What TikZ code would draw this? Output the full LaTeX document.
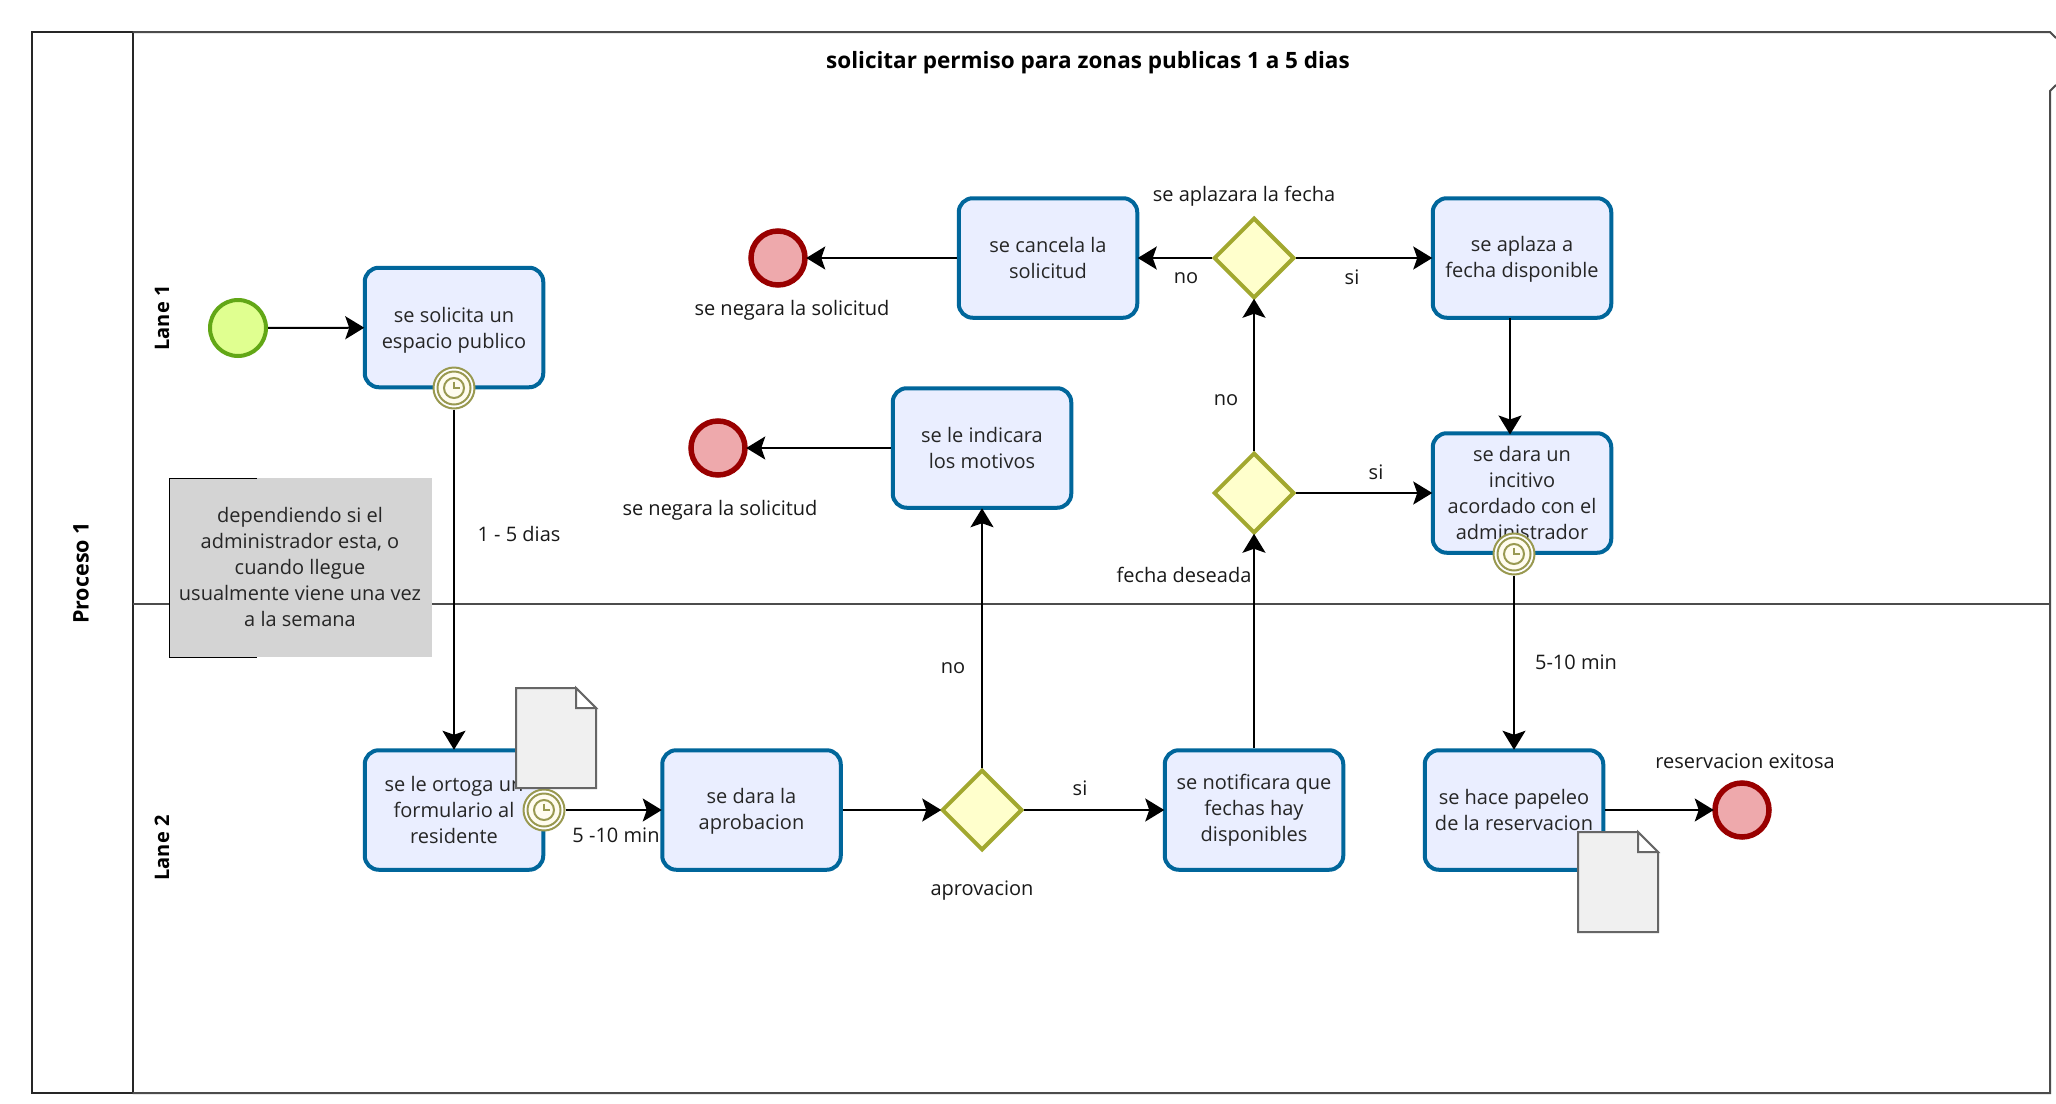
\documentclass[tikz,border=0pt]{standalone}
\usepackage{fontspec}
\setmainfont{Open Sans}
\usetikzlibrary{shapes.geometric,arrows.meta}
\definecolor{taskfill}{HTML}{EAEEFF}
\definecolor{taskline}{HTML}{00669B}
\definecolor{startfill}{HTML}{E0FF90}
\definecolor{startline}{HTML}{62A716}
\definecolor{endfill}{HTML}{EEA9AC}
\definecolor{endline}{HTML}{990000}
\definecolor{gatefill}{HTML}{FFFFCC}
\definecolor{gateline}{HTML}{A2A82F}
\definecolor{timerline}{HTML}{999950}
\definecolor{timerfill}{HTML}{FFFCEE}
\newcommand{\dropline}[1]{\rule{0pt}{#1pt}}
\tikzset{
  x=1pt,y=-1pt,
  body/.style={font=\fontsize{20}{26}\selectfont},
  label/.style={body,inner sep=0pt,text=black!90,align=center},
  taskbox/.style={body,draw=taskline,fill=taskfill,line width=4pt,rounded corners=14pt,
    minimum width=178.5pt,minimum height=119.5pt,inner sep=0pt,align=center,text=black!85},
  startev/.style={circle,draw=startline,fill=startfill,line width=4pt,minimum size=56pt,inner sep=0pt},
  endev/.style={circle,draw=endline,fill=endfill,line width=5.5pt,minimum size=54pt,inner sep=0pt},
  gate/.style={diamond,aspect=1,draw=gateline,fill=gatefill,line width=4pt,minimum size=80.5pt,inner sep=0pt},
  timer/.style={circle,draw=timerline,fill=white,line width=2pt,minimum size=41pt,inner sep=0pt,
    path picture={
      \coordinate (tc) at (path picture bounding box.center);
      \draw[timerline,line width=2pt,fill=timerfill] (tc) circle[radius=16.5pt];
      \draw[timerline,line width=2pt] (tc) circle[radius=10pt];
      \draw[timerline,line width=1.8pt] ([yshift=6.5pt]tc) -- (tc) -- ([xshift=6pt]tc);
    }},
  flow/.style={draw=black,line width=2pt,shorten >=-1.5pt,-{Stealth[length=19pt,width=23pt,inset=4pt]}},
  docshape/.style={draw=black!60,fill=black!6,line width=2pt},
  lanebox/.style={draw=black!70,line width=2pt},
  poolbox/.style={draw=black!85,line width=2pt},
}
\begin{document}
\begin{tikzpicture}
\useasboundingbox (0,0) rectangle (2056,1103);
\fill[white] (0,0) rectangle (2056,1103);
% pool and lanes
\draw[poolbox] (32,32) rectangle (132.5,1093);
\draw[lanebox] (132.5,32) -- (2050,32) -- (2056,38);
\draw[lanebox] (2056,85) -- (2050,91) -- (2050,1093) -- (132.5,1093);
\draw[lanebox] (132.5,604) -- (2050,604);
\node[inner sep=0pt,font=\fontsize{21.5}{26}\selectfont\bfseries,rotate=90] (pool) at (81,573) {Proceso 1};
\node[inner sep=0pt,font=\fontsize{20}{26}\selectfont\bfseries,rotate=90] (lane1) at (162,318) {Lane 1};
\node[inner sep=0pt,font=\fontsize{20}{26}\selectfont\bfseries,rotate=90] (lane2) at (162,848) {Lane 2};
\node[inner sep=0pt,font=\fontsize{22.5}{26}\selectfont\bfseries] (title) at (1088,63) {solicitar permiso para zonas publicas 1 a 5 dias};
% note
\fill[black!17] (169,478) rectangle (432,657);
\draw[black,line width=1pt] (257,478) -- (169,478) -- (169,657) -- (257,657);
\node[label,text=black!85] (note) at (300,567) {dependiendo si el\\administrador esta, o\\cuando llegue\\usualmente viene una vez\\a la semana};
% events
\node[startev] (start) at (238,328) {};
\node[endev] (end1) at (778,258) {};
\node[endev] (end2) at (718,448) {};
\node[endev] (end3) at (1742,810) {};
% tasks
\node[taskbox] (solicita) at (454,327.5) {\dropline{20.2}se solicita un\\espacio publico};
\node[taskbox] (ortoga) at (454,810) {se le ortoga un\\formulario al\\residente};
\node[taskbox] (dara) at (751.5,810) {\dropline{17.8}se dara la\\aprobacion};
\node[taskbox] (notifica) at (1254,810) {se notificara que\\fechas hay\\disponibles};
\node[taskbox] (papeleo) at (1514,810) {se hace papeleo\\de la reservacion};
\node[taskbox] (indicara) at (982,448) {se le indicara\\los motivos};
\node[taskbox] (cancela) at (1048,258) {se cancela la\\solicitud};
\node[taskbox] (aplaza) at (1522,258) {\dropline{17.8}se aplaza a\\fecha disponible};
\node[taskbox] (incitivo) at (1522,493) {se dara un\\incitivo\\acordado con el\\administrador};
% gateways
\node[gate] (g1) at (982,810) {};
\node[gate] (g2) at (1254,493) {};
\node[gate] (g3) at (1254,258) {};
% timers
\node[timer] (t1) at (454,388) {};
\node[timer] (t2) at (544,810) {};
\node[timer] (t3) at (1514,554) {};
% documents
\draw[docshape] (516,688) -- (576,688) -- (596,708) -- (596,788) -- (516,788) -- cycle;
\draw[docshape,fill=white] (576,688) -- (576,708) -- (596,708) -- cycle;
\draw[docshape] (1578,832) -- (1638,832) -- (1658,852) -- (1658,932) -- (1578,932) -- cycle;
\draw[docshape,fill=white] (1638,832) -- (1638,852) -- (1658,852) -- cycle;
% connectors
\draw[flow] (start) -- (solicita);
\draw[flow] (t1) -- (ortoga);
\draw[flow] (t2) -- (dara.west |- t2);
\draw[flow] (dara) -- (g1);
\draw[flow] (g1) -- (notifica);
\draw[flow] (g1) -- (indicara);
\draw[flow] (indicara) -- (end2);
\draw[flow] (notifica) -- (g2);
\draw[flow] (g2) -- (incitivo);
\draw[flow] (g2) -- (g3);
\draw[flow] (g3) -- (aplaza);
\draw[flow] (g3) -- (cancela);
\draw[flow] (cancela) -- (end1);
\coordinate (aplazaout) at (1510,318);
\coordinate (incitivoin) at (1510,433);
\draw[flow] (aplazaout) -- (incitivoin);
\draw[flow] (t3) -- (t3 |- papeleo.north);
\draw[flow] (papeleo) -- (end3);
% labels
\node[label] (l1) at (519,534) {1 - 5 dias};
\node[label] (l2) at (616,835) {5 -10 min};
\node[label] (l3) at (982,891) {aprovacion};
\node[label] (l4) at (1080,788) {si};
\node[label] (l5) at (953,668) {no};
\node[label] (l6) at (1184,575) {fecha deseada};
\node[label] (l7) at (1226,400) {no};
\node[label] (l8) at (1376,472) {si};
\node[label] (l9) at (1244,196) {se aplazara la fecha};
\node[label] (l10) at (1186,278) {no};
\node[label] (l11) at (1352,277) {si};
\node[label] (l12) at (792,310) {se negara la solicitud};
\node[label] (l13) at (720,510) {se negara la solicitud};
\node[label] (l14) at (1576,662) {5-10 min};
\node[label] (l15) at (1745,761) {reservacion exitosa};
\end{tikzpicture}
\end{document}
